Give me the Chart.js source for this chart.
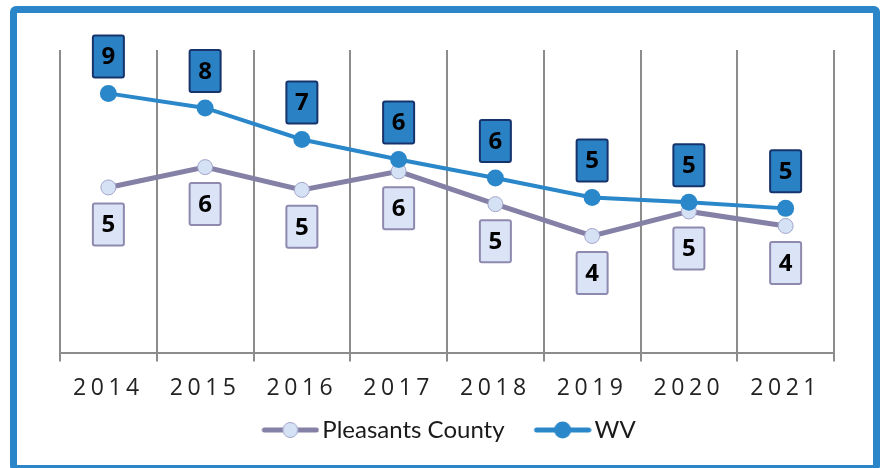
<!DOCTYPE html>
<html>
<head>
<meta charset="utf-8">
<script src="https://cdn.jsdelivr.net/npm/chart.js@4/dist/chart.umd.min.js"></script>
<style>
  html, body { margin: 0; padding: 0; background: #ffffff; }
  #wrap { position: relative; width: 880px; height: 468px; overflow: hidden; background: #ffffff; }
  #frame { position: absolute; left: 10px; top: 6px; width: 870px; height: 466px; box-sizing: border-box;
           border: 7px solid #2A86C8; border-radius: 6px; pointer-events: none; }
  canvas { position: absolute; left: 0; top: 0; }
</style>
</head>
<body>
<div id="wrap">
  <canvas id="c" width="880" height="468"></canvas>
  <div id="frame"></div>
</div>
<script>
// ---- data ----
const years = ['2014', '2015', '2016', '2017', '2018', '2019', '2020', '2021'];
const pleasantsValues = [5.47, 6.14, 5.39, 6.00, 4.92, 3.87, 4.68, 4.20];
const wvValues = [8.57, 8.09, 7.05, 6.39, 5.78, 5.14, 4.98, 4.78];
const pleasantsLabels = ['5', '6', '5', '6', '5', '4', '5', '4'];
const wvLabels = ['9', '8', '7', '6', '6', '5', '5', '5'];
const seriesNames = ['Pleasants County', 'WV'];

// ---- styles ----
const WV_COLOR = '#2A87C9';
const PL_LINE = '#8580A6';
const PL_POINT = '#D5E1F5';
const PL_POINT_BORDER = '#A3A6CA';

const LEG_W = 70;       // legend box width
const LEG_IMG_W = 88;   // legend image width (centered on box)

function legendImage(lineColor, lineW, fill, border, r) {
  const cv = document.createElement('canvas');
  cv.width = LEG_IMG_W; cv.height = 24;
  const g = cv.getContext('2d');
  const x1 = LEG_IMG_W - 55, x2 = LEG_IMG_W - 3;
  g.strokeStyle = lineColor; g.lineWidth = lineW; g.lineCap = 'round';
  g.beginPath(); g.moveTo(x1, 12); g.lineTo(x2, 12); g.stroke();
  g.beginPath(); g.arc((x1 + x2) / 2, 12, r, 0, Math.PI * 2);
  g.fillStyle = fill; g.fill();
  if (border) { g.strokeStyle = border; g.lineWidth = 1; g.stroke(); }
  return cv;
}
const plLegendImg = legendImage(PL_LINE, 5, PL_POINT, PL_POINT_BORDER, 7.5);
const wvLegendImg = legendImage(WV_COLOR, 5, WV_COLOR, null, 8.5);

const labelBoxes = {
  id: 'labelBoxes',
  afterDatasetsDraw(chart) {
    const ctx = chart.ctx;
    const specs = [
      { ds: 0, labels: pleasantsLabels, dy: 37, fill: '#DBE4F7', stroke: '#8E89AE' },
      { ds: 1, labels: wvLabels, dy: -37, fill: '#2A82C5', stroke: '#17336B' }
    ];
    specs.forEach(s => {
      const meta = chart.getDatasetMeta(s.ds);
      meta.data.forEach((pt, i) => {
        const cx = pt.x, cy = pt.y + s.dy;
        const w = 31, h = 42;
        ctx.save();
        ctx.beginPath();
        ctx.roundRect(cx - w / 2, cy - h / 2, w, h, 2);
        ctx.fillStyle = s.fill; ctx.fill();
        ctx.lineWidth = 2; ctx.strokeStyle = s.stroke; ctx.stroke();
        ctx.fillStyle = '#000000';
        ctx.font = 'bold 24px "Open Sans", "DejaVu Sans", sans-serif';
        ctx.textAlign = 'center'; ctx.textBaseline = 'middle';
        ctx.fillText(s.labels[i], cx, cy + 1);
        ctx.restore();
      });
    });
  }
};

const tickSpacing = {
  id: 'tickSpacing',
  beforeDraw(chart) {
    const s = chart.scales.x;
    if (s && !s._spaced) {
      const orig = s.drawLabels.bind(s);
      s.drawLabels = function (area) {
        const ctx = this.ctx;
        const prev = ctx.letterSpacing;
        ctx.letterSpacing = '4.5px';
        orig(area);
        ctx.letterSpacing = prev || '0px';
      };
      s._spaced = true;
    }
  }
};

// nudge the legend block to the reference position
const legendNudge = {
  id: 'legendNudge',
  afterLayout(chart) {
    const lg = chart.legend;
    if (lg) {
      lg.top -= 5; lg.bottom -= 5;
      lg.left -= 9; lg.right -= 9;
    }
  }
};

new Chart(document.getElementById('c'), {
  type: 'line',
  data: {
    labels: years,
    datasets: [
      {
        label: seriesNames[0], data: pleasantsValues, order: 1,
        borderColor: PL_LINE, borderWidth: 5, tension: 0,
        pointRadius: 7.5, pointBackgroundColor: PL_POINT, pointBorderColor: PL_POINT_BORDER, pointBorderWidth: 1
      },
      {
        label: seriesNames[1], data: wvValues, order: 0,
        borderColor: WV_COLOR, borderWidth: 4, tension: 0,
        pointRadius: 8.5, pointBackgroundColor: WV_COLOR, pointBorderColor: WV_COLOR, pointBorderWidth: 0
      }
    ]
  },
  options: {
    responsive: false,
    animation: false,
    layout: { padding: { left: 60, right: 46, top: 50, bottom: 11 } },
    scales: {
      x: {
        offset: true,
        grid: { offset: true, display: true, color: '#8C8C8C', lineWidth: 2, tickLength: 8, drawTicks: true, tickColor: '#8C8C8C' },
        border: { display: true, color: '#8C8C8C', width: 2 },
        ticks: { color: '#222222', padding: 13, font: { family: '"Open Sans", sans-serif', size: 23 } }
      },
      y: { display: false, min: 0, max: 10 }
    },
    plugins: {
      tooltip: { enabled: false },
      legend: {
        position: 'bottom',
        labels: {
          usePointStyle: true,
          pointStyleWidth: LEG_W,
          padding: 8,
          color: '#1A1A1A',
          font: { family: 'Lato, "Open Sans", sans-serif', size: 24 },
          generateLabels() {
            return [
              { text: seriesNames[0], pointStyle: plLegendImg, fillStyle: PL_POINT, strokeStyle: PL_LINE, lineWidth: 0, hidden: false, datasetIndex: 0, fontColor: '#1A1A1A' },
              { text: seriesNames[1], pointStyle: wvLegendImg, fillStyle: WV_COLOR, strokeStyle: WV_COLOR, lineWidth: 0, hidden: false, datasetIndex: 1, fontColor: '#1A1A1A' }
            ];
          }
        }
      }
    }
  },
  plugins: [labelBoxes, tickSpacing, legendNudge]
});
</script>
</body>
</html>
